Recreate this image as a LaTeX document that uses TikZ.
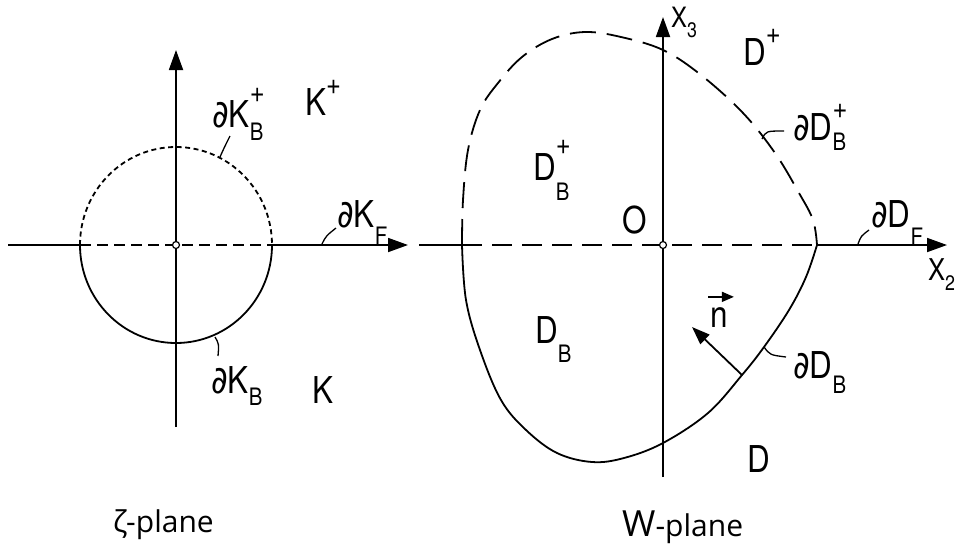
\documentclass[tikz,border=0pt]{standalone}
\usepackage{fontspec}
\setmainfont{TeX Gyre Heros}[FakeStretch=0.85]
\newfontfamily\dfont{DejaVu Sans}[FakeStretch=0.85]
\newfontfamily\pfont{Open Sans}
\usetikzlibrary{arrows.meta}
\newcommand\lsize{\fontsize{37}{40}\selectfont}
\newcommand\ssize{\fontsize{24}{26}\selectfont}
\newcommand\psize{\fontsize{30}{32}\selectfont}
\newcommand\pd{{\dfont\fontsize{38}{40}\selectfont ∂}}
% #1 sub, #2 sup, #3 sub raise, #4 sup raise
\newcommand\subsup[4]{\makebox[0pt][l]{\raisebox{#3}{\ssize #1}}\raisebox{#4}{\psize #2}}
\tikzset{
  axis/.style={line width=1.8pt},
  tip/.style={-{Triangle[length=20pt,width=14pt]}},
  curve/.style={line width=1.8pt},
  fdash/.style={dash pattern=on 5pt off 3.5pt},
  adashL/.style={dash pattern=on 11pt off 6pt},
  adashR/.style={dash pattern=on 20pt off 10pt},
  cdash/.style={dash pattern=on 26pt off 11pt},
  lab/.style={anchor=base west, inner sep=0pt, font=\lsize},
  tick/.style={line width=1.3pt},
  orig/.style={circle, draw, fill=white, line width=1.2pt, minimum size=7pt, inner sep=0pt},
}
\begin{document}
\begin{tikzpicture}[x=1pt,y=-1pt]
\useasboundingbox (0,0) rectangle (960,547);
% ---------------- zeta-plane ----------------
\coordinate (O1) at (176,245);
\coordinate (lA) at (8,245);
\coordinate (lL) at (80,245);
\coordinate (lR) at (272,245);
\coordinate (lT) at (408,245);
\coordinate (lB) at (176,427);
\coordinate (lU) at (176,50);
\draw[axis] (lA) -- (lL);
\draw[axis,adashL] (lL) -- (lR);
\draw[axis,tip] (lR) -- (lT);
\draw[axis,tip] (lB) -- (lU);
\draw[curve,fdash] (lL) arc[start angle=180, end angle=360, x radius=96, y radius=98];
\draw[curve] (lR) arc[start angle=0, end angle=180, x radius=96, y radius=98];
\node[orig] (o1) at (O1) {};
% leader ticks
\draw[tick] (220,157) .. controls (224,148) .. (230,136);
\draw[tick] (322,244) .. controls (326,236) .. (336,228);
\draw[tick] (215,337) .. controls (219,344) .. (218,356);
% labels
\node[lab] (kbp) at (212,127) {\pd K\subsup{B}{+}{-13pt}{25pt}};
\node[lab] (kp) at (305,115) {K\subsup{}{+}{0pt}{21pt}};
\node[lab] (kf) at (337,227) {\pd K\subsup{F}{}{-17pt}{0pt}};
\node[lab] (kb) at (211,393) {\pd K\subsup{B}{}{-12pt}{0pt}};
\node[lab] (k) at (312,403) {K};
\node[anchor=base west, inner sep=0pt] (zp) at (113,532) {\pfont\fontsize{30}{32}\selectfont ζ-plane};
% ---------------- W-plane ----------------
\coordinate (O2) at (663,245);
\coordinate (rA) at (419,245);
\coordinate (rL) at (462,245);
\coordinate (rR) at (817,245);
\coordinate (rT) at (947,245);
\coordinate (rB) at (663,477);
\coordinate (rU) at (663,17);
\draw[axis] (rA) -- (rL);
\draw[axis,adashR] (rL) -- (rR);
\draw[axis,tip] (rR) -- (rT);
\draw[axis,tip] (rB) -- (rU);
\draw[curve,cdash] plot[smooth,tension=0.6] coordinates {(462,245) (463,200) (468,150) (480,110) (498,83) (522,57) (552,39) (585,32) (621,37) (663,50) (701,75) (743,113) (775,153) (799,193) (813,220) (817,245)};
\draw[curve] plot[smooth,tension=0.6] coordinates {(817,245) (806,277) (789,310) (764,347) (742,375) (708,413) (663,443) (624,458) (592,462) (557,453) (526,430) (501,400) (480,350) (466,300) (462,245)};
\node[orig] (o2) at (O2) {};
% normal vector
\coordinate (nb) at (742,375);
\coordinate (nt) at (692,327);
\draw[curve,-{Triangle[length=18pt,width=13pt]}] (nb) -- (nt);
% leader ticks
\draw[tick] (762,139) .. controls (766,131) .. (784,131);
\draw[tick] (858,244) .. controls (861,236) .. (869,230);
\draw[tick] (764,347) .. controls (770,355) .. (786,357);
% labels
\node[lab] (x3) at (671,27) {\fontsize{28}{30}\selectfont X\subsup{\fontsize{21}{22}\selectfont 3}{}{-10pt}{0pt}};
\node[lab] (dp) at (743,65) {D\subsup{}{+}{0pt}{22pt}};
\node[lab] (dbp) at (793,140) {\pd D\subsup{B}{+}{-10pt}{22pt}};
\node[lab] (dbpin) at (533,180) {D\subsup{B}{+}{-20pt}{26pt}};
\node[lab] (o) at (622,233) {O};
\node[lab] (df) at (871,227) {\pd D\subsup{F}{}{-18pt}{0pt}};
\node[lab] (x2) at (928,280) {\fontsize{30}{32}\selectfont X\subsup{\fontsize{21}{22}\selectfont 2}{}{-10pt}{0pt}};
\node[lab] (db) at (535,343) {D\subsup{B}{}{-19pt}{0pt}};
\node[lab] (dbb) at (793,378) {\pd D\subsup{B}{}{-15pt}{0pt}};
\node[lab] (d) at (747,472) {D};
\node[lab] (nl) at (710,327) {n};
\draw[line width=1.6pt,-{Triangle[length=12pt,width=10pt]}] ([xshift=-2pt,yshift=10pt]nl.north west) -- ([xshift=6pt,yshift=10pt]nl.north east);
\node[anchor=base west, inner sep=0pt] (wp) at (622,536) {\pfont\fontsize{36}{38}\selectfont W\fontsize{30}{32}\selectfont -plane};
\end{tikzpicture}
\end{document}
